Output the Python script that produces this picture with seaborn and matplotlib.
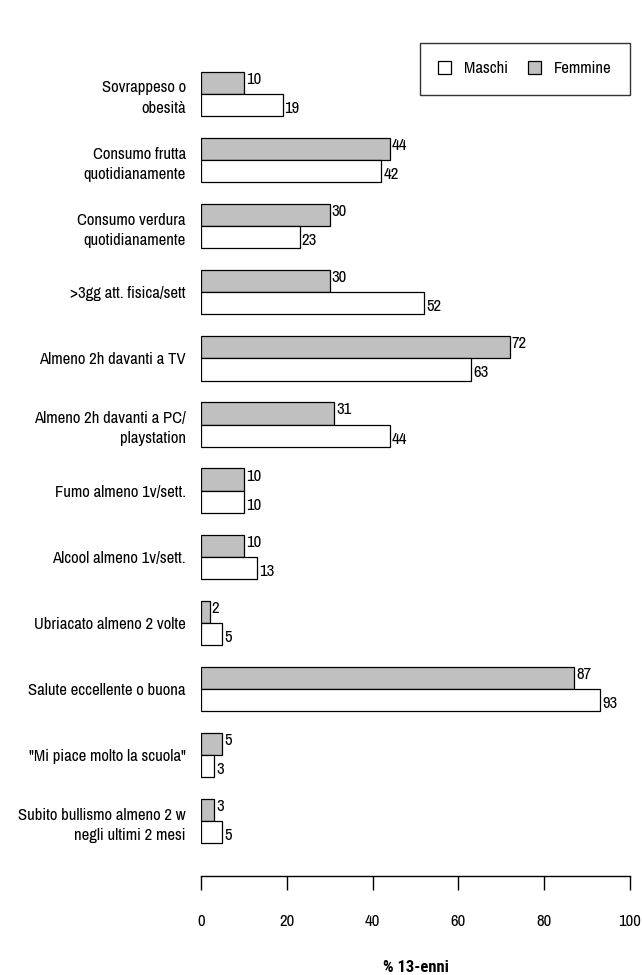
import matplotlib
matplotlib.use("Agg")
import matplotlib.pyplot as plt
import matplotlib.patches as mpatches
import seaborn as sns
import pandas as pd

categories = [
    "Sovrappeso o\nobesità",
    "Consumo frutta\nquotidianamente",
    "Consumo verdura\nquotidianamente",
    ">3gg att. fisica/sett",
    "Almeno 2h davanti a TV",
    "Almeno 2h davanti a PC/\nplaystation",
    "Fumo almeno 1v/sett.",
    "Alcool almeno 1v/sett.",
    "Ubriacato almeno 2 volte",
    "Salute eccellente o buona",
    "\"Mi piace molto la scuola\"",
    "Subito bullismo almeno 2 w\nnegli ultimi 2 mesi",
]
femmine = [10, 44, 30, 30, 72, 31, 10, 10, 2, 87, 5, 3]
maschi = [19, 42, 23, 52, 63, 44, 10, 13, 5, 93, 3, 5]
x_ticks = [0, 20, 40, 60, 80, 100]

sns.set_theme(style="white")
plt.rcParams["font.family"] = ["Archivo Narrow", "DejaVu Sans"]
plt.rcParams["text.color"] = "black"
plt.rcParams["xtick.color"] = "black"
plt.rcParams["ytick.color"] = "black"
plt.rcParams["axes.labelcolor"] = "black"

df = pd.DataFrame({
    "categoria": categories * 2,
    "valore": femmine + maschi,
    "sesso": ["Femmine"] * len(categories) + ["Maschi"] * len(categories),
})

colors = {"Femmine": "#c0c0c0", "Maschi": "#ffffff"}

fig = plt.figure(figsize=(6.42, 9.75), dpi=100)
ax = fig.add_axes([0.3131, 0.1015, 0.6682, 0.8428])

sns.barplot(
    data=df, y="categoria", x="valore", hue="sesso",
    hue_order=["Femmine", "Maschi"], order=categories,
    palette=colors, orient="h", width=0.67, gap=0,
    edgecolor="black", linewidth=0.9, legend=False, ax=ax,
)

ax.set_xlim(0, 100)
ax.set_ylim(11.83, -0.6)

# value labels next to each bar
offsets = {0: 2.5, 1: -2.5}
for i, container in enumerate(ax.containers):
    for patch, val in zip(container.patches, [femmine, maschi][i]):
        y = patch.get_y() + patch.get_height() / 2
        ax.annotate(f"{val}", xy=(patch.get_width(), y),
                    xytext=(1.5, offsets[i]), textcoords="offset points",
                    ha="left", va="center", fontsize=12, color="black")

for side in ["left", "top", "right"]:
    ax.spines[side].set_visible(False)
ax.spines["bottom"].set_color("black")
ax.spines["bottom"].set_linewidth(1.0)

ax.set_xticks(x_ticks)
ax.set_xticklabels([str(t) for t in x_ticks])
ax.tick_params(axis="x", direction="out", length=10, width=1.0,
               color="black", pad=17, labelsize=12, bottom=True)
ax.tick_params(axis="y", length=0, pad=11, labelsize=12)
for lbl in ax.get_yticklabels():
    lbl.set_horizontalalignment("right")
    lbl.set_linespacing(1.45)

ax.set_ylabel("")
ax.set_xlabel("% 13-enni", fontsize=12, fontweight="bold",
              family=["Roboto Condensed", "DejaVu Sans"], labelpad=23)

handles = [
    mpatches.Patch(facecolor=colors["Maschi"], edgecolor="black", linewidth=0.9, label="Maschi"),
    mpatches.Patch(facecolor=colors["Femmine"], edgecolor="black", linewidth=0.9, label="Femmine"),
]
leg = fig.legend(handles=handles, ncol=2, loc="upper right",
                 bbox_to_anchor=(630 / 642, 1 - 43 / 975), borderaxespad=0,
                 frameon=True, fancybox=False, fontsize=12,
                 handlelength=0.75, handleheight=0.75, handletextpad=0.8,
                 columnspacing=1.2, borderpad=1.1)
leg.get_frame().set_edgecolor("black")
leg.get_frame().set_linewidth(1.0)

fig.savefig("out.png", dpi=100, facecolor="white")
